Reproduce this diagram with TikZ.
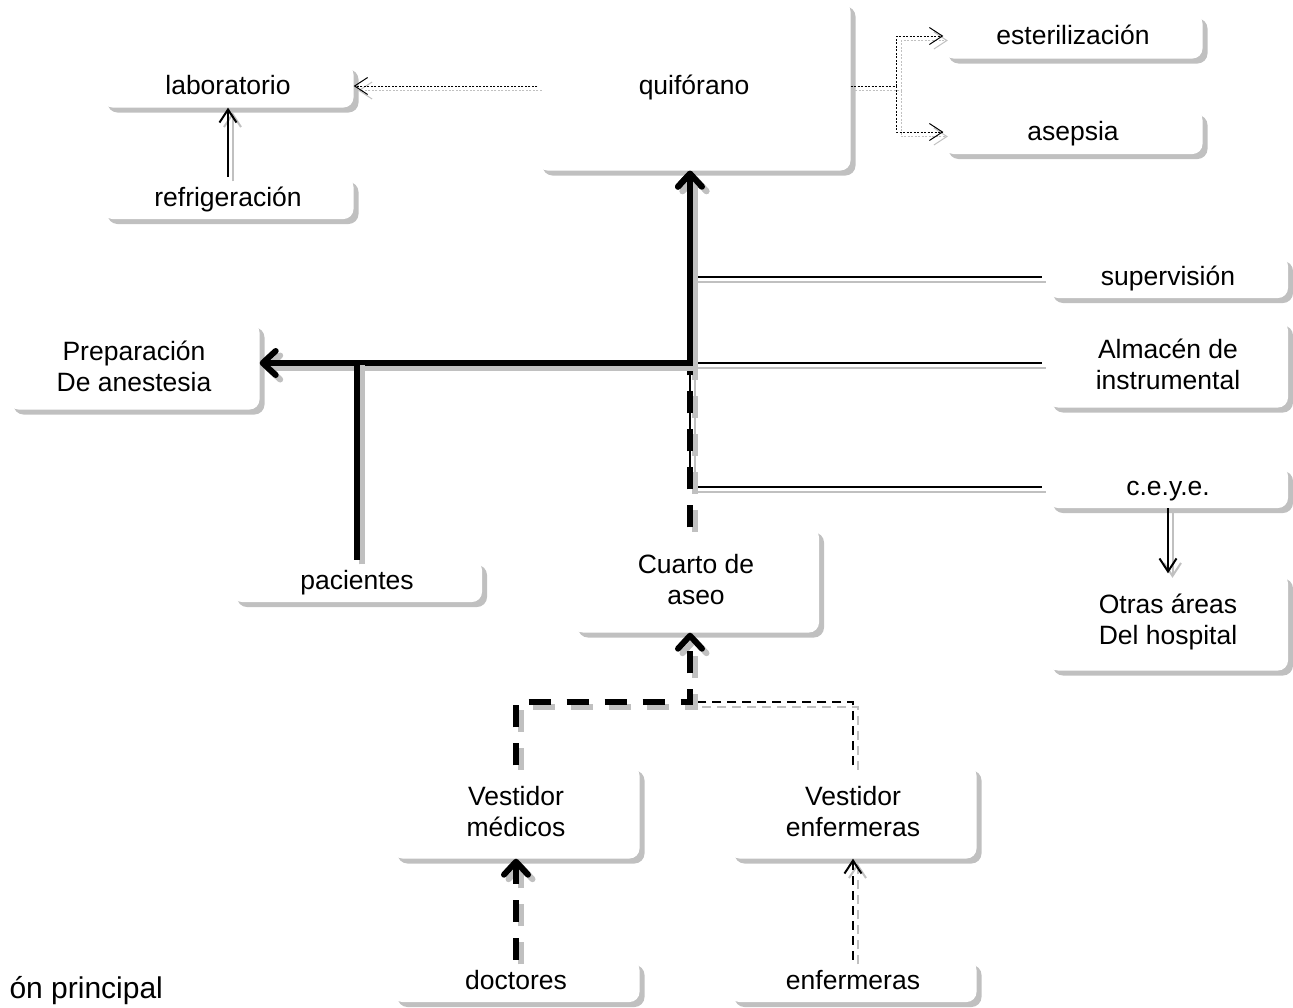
\documentclass[tikz,border=0pt]{standalone}
\usepackage{fontspec}
\setmainfont{Liberation Sans}
\usetikzlibrary{arrows.meta,shadows}
\definecolor{shade}{HTML}{C0C0C0}
\tikzset{
  abox/.style={fill=white,rounded corners=10pt,inner sep=0pt,align=center,
    drop shadow={shadow xshift=5pt,shadow yshift=-5pt,fill=shade,opacity=1}},
  oneline/.style={text height=21pt,text depth=4pt},
  shadowed/.style={preaction={draw=shade,transform canvas={xshift=4.5pt,yshift=-4.5pt},#1},#1},
  lthick/.style={line width=6pt},
  ldthick/.style={line width=6pt,dash pattern=on 22pt off 16pt},
  lthin/.style={line width=2pt},
  ldthin/.style={line width=2pt,dash pattern=on 9pt off 6pt},
  ldot/.style={line width=1pt,dash pattern=on 2pt off 1.5pt},
  bigtip/.style={-{Straight Barb[length=13pt,width=24pt,round]}},
  smalltip/.style={-{Straight Barb[length=13pt,width=17pt]}}
}
\begin{document}
\begin{tikzpicture}[x=1pt,y=-1pt,font=\fontsize{26.5}{31}\selectfont]
  \useasboundingbox (0,0) rectangle (1293,1007);
  % areas
  \node[abox,oneline,minimum width=313pt,minimum height=169pt] (qui) at (694,86) {quifórano};
  \node[abox,oneline,minimum width=259pt,minimum height=45pt] (est) at (1073,36) {esterilización};
  \node[abox,oneline,minimum width=259pt,minimum height=44pt] (ase) at (1073,132) {asepsia};
  \node[abox,oneline,minimum width=251pt,minimum height=43pt] (lab) at (228,86) {laboratorio};
  \node[abox,oneline,minimum width=251pt,minimum height=42pt] (ref) at (228,198) {refrigeración};
  \node[abox,minimum width=251pt,minimum height=87pt] (prep) at (134,366) {Preparación\\De anestesia};
  \node[abox,oneline,minimum width=250pt,minimum height=42pt] (pac) at (357,581) {pacientes};
  \node[abox,oneline,minimum width=240pt,minimum height=42pt] (sup) at (1168,277) {supervisión};
  \node[abox,minimum width=240pt,minimum height=87pt] (alm) at (1168,364) {Almacén de\\instrumental};
  \node[abox,oneline,minimum width=240pt,minimum height=42pt] (ceye) at (1168,487) {c.e.y.e.};
  \node[abox,minimum width=240pt,minimum height=97pt] (otr) at (1168,622) {Otras áreas\\Del hospital};
  \node[abox,minimum width=246pt,minimum height=105pt] (cua) at (696,580) {Cuarto de\\aseo};
  \node[abox,minimum width=247pt,minimum height=93pt] (vmed) at (516,812) {Vestidor\\médicos};
  \node[abox,minimum width=247pt,minimum height=93pt] (venf) at (853,812) {Vestidor\\enfermeras};
  \node[abox,oneline,minimum width=247pt,minimum height=42pt] (doc) at (516,981) {doctores};
  \node[abox,oneline,minimum width=247pt,minimum height=42pt] (enf) at (853,981) {enfermeras};
  \node[anchor=base west,font=\fontsize{30}{34}\selectfont] (leg) at (6,998) {ón principal};
  % junctions
  \coordinate (trunk) at (690,363);
  \coordinate (join) at (690,702);
  % dotted links of the quirofano
  \draw[shadowed={ldot,smalltip}] (qui.west) -- (lab.east);
  \draw[shadowed=ldot] (qui.east) -- ++(46,0) coordinate (fork);
  \draw[shadowed={ldot,smalltip}] (fork) |- (est.west);
  \draw[shadowed={ldot,smalltip}] (fork) |- (ase.west);
  % thin links
  \draw[shadowed={lthin,smalltip}] (ref.north) -- (lab.south);
  \draw[shadowed={lthin,smalltip}] (ceye.south) -- (otr.north);
  \draw[shadowed=lthin] (sup.west -| trunk) -- (ceye.west -| trunk);
  \draw[shadowed={lthin,shorten >=6pt}] (sup.west -| trunk) -- (sup.west);
  \draw[shadowed={lthin,shorten >=6pt}] (trunk) -- (alm.west |- trunk);
  \draw[shadowed={lthin,shorten >=6pt}] (ceye.west -| trunk) -- (ceye.west);
  % main circulation
  \draw[shadowed={ldthick,bigtip}] (cua.north -| trunk) -- (qui.south -| trunk);
  \draw[shadowed={lthick,bigtip}] (pac.north) |- (trunk) -- (qui.south -| trunk);
  \draw[shadowed={lthick,bigtip}] (pac.north) |- (prep.east |- trunk);
  % dressing rooms
  \draw[shadowed=ldthin] (venf.north) |- (join);
  \draw[shadowed={ldthick,bigtip}] (vmed.north) |- (join) -- (cua.south -| join);
  \draw[shadowed={ldthick,bigtip}] (doc.north) -- (vmed.south);
  \draw[shadowed={ldthin,smalltip}] (enf.north) -- (venf.south);
\end{tikzpicture}
\end{document}
